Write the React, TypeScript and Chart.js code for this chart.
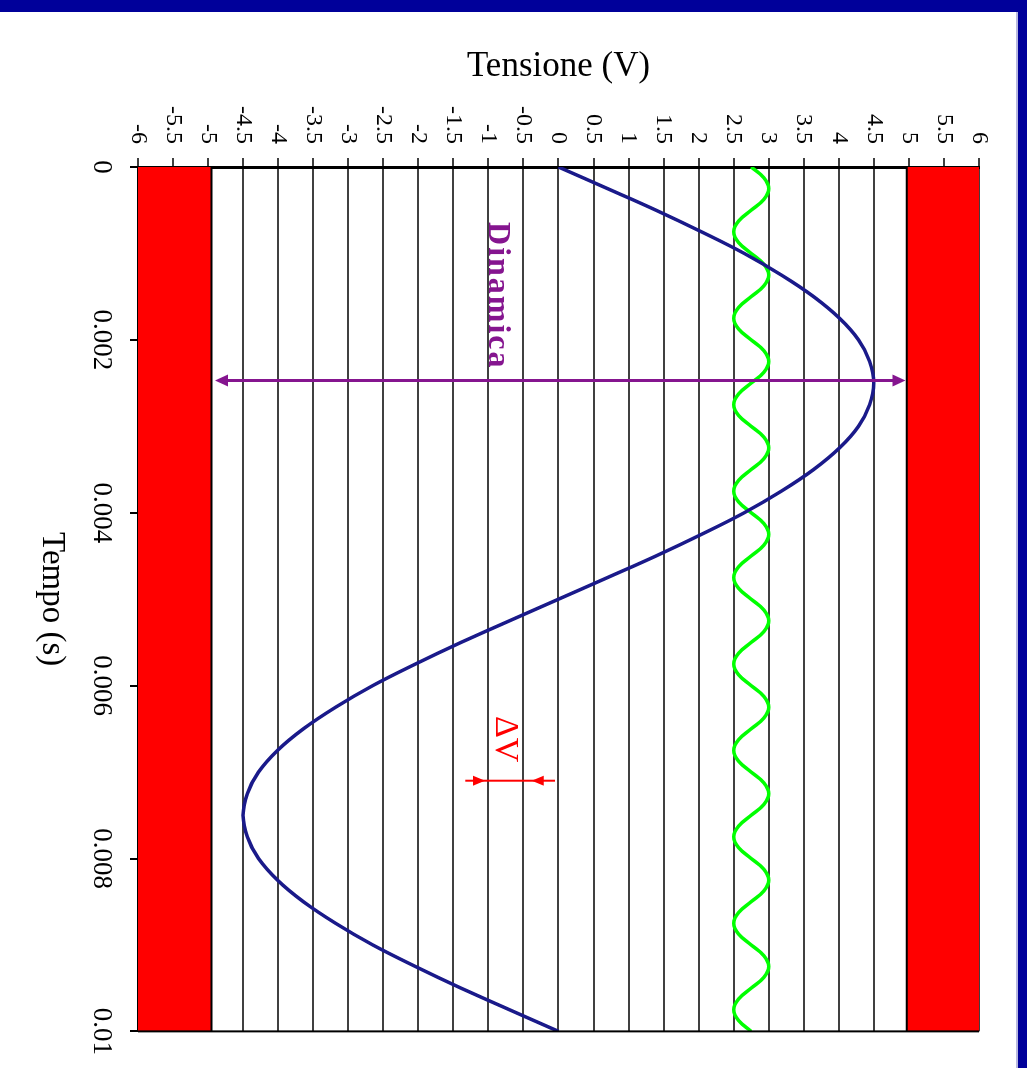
import React, { useEffect, useRef } from 'react';
import { Chart, registerables } from 'chart.js';

Chart.register(...registerables);

// ---------- data ----------
const timeTicks = [0, 0.002, 0.004, 0.006, 0.008, 0.01];
const timeTickLabels = ['0', '0.002', '0.004', '0.006', '0.008', '0.01'];

const voltTicks = [-6, -5.5, -5, -4.5, -4, -3.5, -3, -2.5, -2, -1.5, -1, -0.5, 0, 0.5, 1, 1.5, 2, 2.5, 3, 3.5, 4, 4.5, 5, 5.5, 6];
const voltTickLabels = ['-6', '-5.5', '-5', '-4.5', '-4', '-3.5', '-3', '-2.5', '-2', '-1.5', '-1', '-0.5', '0', '0.5', '1', '1.5', '2', '2.5', '3', '3.5', '4', '4.5', '5', '5.5', '6'];

// signal (blue), sampled every 0.25 ms
const blueStep = 0.00025;
const blueVolts = [
  0, 0.7, 1.39, 2.04, 2.65, 3.18, 3.64, 4.01, 4.28, 4.44,
  4.5, 4.44, 4.28, 4.01, 3.64, 3.18, 2.65, 2.04, 1.39, 0.7,
  0, -0.7, -1.39, -2.04, -2.65, -3.18, -3.64, -4.01, -4.28, -4.44,
  -4.5, -4.44, -4.28, -4.01, -3.64, -3.18, -2.65, -2.04, -1.39, -0.7,
  0,
];

// ripple (green), sampled every 0.125 ms
const greenStep = 0.000125;
const greenVolts = [
  2.75, 2.93, 3.0, 2.93, 2.75, 2.57, 2.5, 2.57,
  2.75, 2.93, 3.0, 2.93, 2.75, 2.57, 2.5, 2.57,
  2.75, 2.93, 3.0, 2.93, 2.75, 2.57, 2.5, 2.57,
  2.75, 2.93, 3.0, 2.93, 2.75, 2.57, 2.5, 2.57,
  2.75, 2.93, 3.0, 2.93, 2.75, 2.57, 2.5, 2.57,
  2.75, 2.93, 3.0, 2.93, 2.75, 2.57, 2.5, 2.57,
  2.75, 2.93, 3.0, 2.93, 2.75, 2.57, 2.5, 2.57,
  2.75, 2.93, 3.0, 2.93, 2.75, 2.57, 2.5, 2.57,
  2.75, 2.93, 3.0, 2.93, 2.75, 2.57, 2.5, 2.57,
  2.75, 2.93, 3.0, 2.93, 2.75, 2.57, 2.5, 2.57,
  2.75,
];

// saturation limits (red bands)
const limitTimes = [0, 0.01];
const lowerLimit = -4.95;
const upperLimit = 4.97;

// "Dinamica" arrow
const dinamicaTime = 0.00247;
const dinamicaFrom = -4.9;
const dinamicaTo = 4.95;
const dinamicaLabelTime = 0.00149;
const dinamicaLabelVolt = -0.88;

// "ΔV" arrow
const deltaTime = 0.0071;
const deltaLineFrom = -1.33;
const deltaLineTo = -0.05;
const deltaTipLow = -1.05;
const deltaTipHigh = -0.38;
const deltaLabelTime = 0.00662;
const deltaLabelVolt = -0.76;

const FONT = '"Liberation Serif", "Times New Roman", serif';
const NAVY = '#00009a';
const PURPLE = '#85158f';

function arrowHead(ctx: CanvasRenderingContext2D, x: number, tipY: number, dir: number, len: number, half: number) {
  // dir = -1 : points up (toward smaller pixel y); +1 : points down
  ctx.beginPath();
  ctx.moveTo(x, tipY);
  ctx.lineTo(x - half, tipY - dir * len);
  ctx.lineTo(x + half, tipY - dir * len);
  ctx.closePath();
  ctx.fill();
}

const annotPlugin = {
  id: 'annot',
  afterDatasetsDraw(chart: any) {
    const { ctx, chartArea, scales } = chart;
    const xs = scales.x;
    const ys = scales.y;
    ctx.save();
    // closing border line at t = max
    ctx.strokeStyle = '#000';
    ctx.lineWidth = 2;
    ctx.beginPath();
    ctx.moveTo(chartArea.right, chartArea.top);
    ctx.lineTo(chartArea.right, chartArea.bottom);
    ctx.stroke();

    // Dinamica arrow
    const ax = xs.getPixelForValue(dinamicaTime);
    const ay1 = ys.getPixelForValue(dinamicaFrom);
    const ay2 = ys.getPixelForValue(dinamicaTo);
    ctx.strokeStyle = PURPLE;
    ctx.fillStyle = PURPLE;
    ctx.lineWidth = 3;
    ctx.beginPath();
    ctx.moveTo(ax, ay1 - 6);
    ctx.lineTo(ax, ay2 + 6);
    ctx.stroke();
    arrowHead(ctx, ax, ay2, -1, 13, 6);
    arrowHead(ctx, ax, ay1, 1, 13, 6);

    ctx.font = 'bold 32px ' + FONT;
    ctx.textAlign = 'center';
    ctx.textBaseline = 'middle';
    try { (ctx as any).letterSpacing = '2px'; } catch (e) { /* ignore */ }
    ctx.fillText('Dinamica', xs.getPixelForValue(dinamicaLabelTime), ys.getPixelForValue(dinamicaLabelVolt));
    try { (ctx as any).letterSpacing = '0px'; } catch (e) { /* ignore */ }

    // ΔV arrow
    const dx = xs.getPixelForValue(deltaTime);
    ctx.strokeStyle = '#ff0000';
    ctx.fillStyle = '#ff0000';
    ctx.lineWidth = 2;
    ctx.beginPath();
    ctx.moveTo(dx, ys.getPixelForValue(deltaLineFrom));
    ctx.lineTo(dx, ys.getPixelForValue(deltaLineTo));
    ctx.stroke();
    arrowHead(ctx, dx, ys.getPixelForValue(deltaTipLow), -1, 12, 5);
    arrowHead(ctx, dx, ys.getPixelForValue(deltaTipHigh), 1, 12, 5);

    ctx.font = '34px ' + FONT;
    ctx.fillText('\u0394V', xs.getPixelForValue(deltaLabelTime), ys.getPixelForValue(deltaLabelVolt));
    ctx.restore();
  },
};

export default function App() {
  const canvasRef = useRef<HTMLCanvasElement | null>(null);

  useEffect(() => {
    const canvas = canvasRef.current;
    if (!canvas) return;
    const bluePoints = blueVolts.map((v, i) => ({ x: i * blueStep, y: v }));
    const greenPoints = greenVolts.map((v, i) => ({ x: i * greenStep, y: v }));
    const lowPoints = limitTimes.map((t) => ({ x: t, y: lowerLimit }));
    const highPoints = limitTimes.map((t) => ({ x: t, y: upperLimit }));

    const chart = new Chart(canvas, {
      type: 'scatter',
      data: {
        datasets: [
          {
            label: 'Limite inferiore',
            data: lowPoints,
            showLine: true,
            borderColor: '#000',
            borderWidth: 2,
            backgroundColor: '#ff0000',
            fill: 'start',
            pointRadius: 0,
          },
          {
            label: 'Limite superiore',
            data: highPoints,
            showLine: true,
            borderColor: '#000',
            borderWidth: 2,
            backgroundColor: '#ff0000',
            fill: 'end',
            pointRadius: 0,
          },
          {
            label: 'Segnale',
            data: bluePoints,
            showLine: true,
            borderColor: '#1a1a8a',
            borderWidth: 3.5,
            pointRadius: 0,
            tension: 0.4,
            fill: false,
          },
          {
            label: 'Ripple',
            data: greenPoints,
            showLine: true,
            borderColor: '#00ff00',
            borderWidth: 3.5,
            pointRadius: 0,
            tension: 0.4,
            fill: false,
          },
        ],
      },
      options: {
        animation: false,
        responsive: false,
        devicePixelRatio: 1,
        layout: { padding: { top: 48, right: 36, bottom: 0, left: 0 } },
        plugins: { legend: { display: false }, tooltip: { enabled: false } },
        scales: {
          x: {
            type: 'linear',
            position: 'bottom',
            min: 0,
            max: 0.01,
            afterBuildTicks: (s: any) => {
              s.ticks = timeTicks.map((v) => ({ value: v }));
            },
            afterFit: (s: any) => {
              s.height = 138;
            },
            ticks: {
              autoSkip: false,
              maxRotation: 0,
              minRotation: 0,
              padding: 13,
              color: '#000',
              font: { family: FONT, size: 27 },
              callback: (_v: any, i: number) => timeTickLabels[i],
            },
            grid: { drawOnChartArea: false, drawTicks: true, tickLength: 8, color: '#000', lineWidth: 2 },
            border: { display: true, color: '#000', width: 2 },
            title: {
              display: true,
              text: 'Tempo (s)',
              color: '#000',
              font: { family: FONT, size: 33 },
              padding: { top: 0, bottom: 32 },
            },
          },
          y: {
            type: 'linear',
            position: 'left',
            min: -6,
            max: 6,
            afterBuildTicks: (s: any) => {
              s.ticks = voltTicks.map((v) => ({ value: v }));
            },
            afterFit: (s: any) => {
              s.width = 167;
            },
            ticks: {
              autoSkip: false,
              padding: 14,
              color: '#000',
              font: { family: FONT, size: 24 },
              callback: (_v: any, i: number) => voltTickLabels[i],
            },
            grid: { drawOnChartArea: true, drawTicks: true, tickLength: 9, color: '#404040', lineWidth: 2 },
            border: { display: true, color: '#000', width: 3 },
            title: {
              display: true,
              text: 'Tensione (V)',
              color: '#000',
              font: { family: FONT, size: 35 },
              padding: { top: 46, bottom: 0 },
            },
          },
        },
      },
      plugins: [annotPlugin],
    } as any);

    return () => chart.destroy();
  }, []);

  return (
    <div style={{ position: 'fixed', left: 0, top: 0, width: 1027, height: 1068, background: '#fff', overflow: 'hidden' }}>
      <div
        style={{
          position: 'absolute',
          left: 0,
          top: 0,
          width: 1068,
          height: 1027,
          transformOrigin: '0 0',
          transform: 'translate(1027px, 0px) rotate(90deg)',
        }}
      >
        <canvas ref={canvasRef} width={1068} height={1027} style={{ display: 'block' }} />
      </div>
      <div style={{ position: 'absolute', left: 0, top: 0, width: 1027, height: 12, background: NAVY }} />
      <div style={{ position: 'absolute', left: 1016, top: 12, width: 2, height: 1056, background: '#b8b8e0' }} />
      <div style={{ position: 'absolute', left: 1018, top: 0, width: 9, height: 1068, background: NAVY }} />
    </div>
  );
}
